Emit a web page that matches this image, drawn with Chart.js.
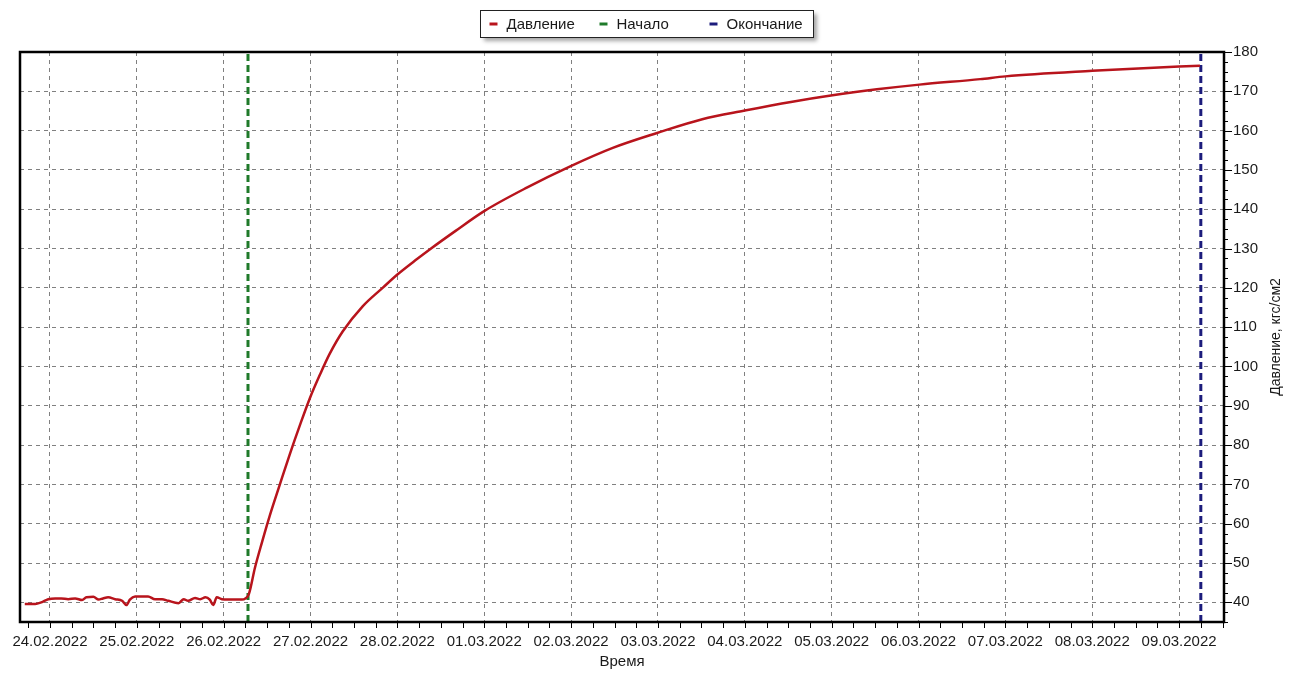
<!DOCTYPE html>
<html lang="ru">
<head>
<meta charset="UTF-8">
<title>Давление</title>
<script src="https://cdn.jsdelivr.net/npm/chart.js"></script>
<style>
  html, body { margin: 0; padding: 0; background: #fff; }
  #wrap { width: 1299px; height: 673px; }
</style>
</head>
<body>
<div id="wrap"><canvas id="pressureChart"></canvas></div>
<script>
  // x values are days counted from 24.02.2022 00:00
  const dateLabels = ["24.02.2022", "25.02.2022", "26.02.2022", "27.02.2022", "28.02.2022",
    "01.03.2022", "02.03.2022", "03.03.2022", "04.03.2022", "05.03.2022",
    "06.03.2022", "07.03.2022", "08.03.2022", "09.03.2022"];
  const dateTicks = [0, 1, 2, 3, 4, 5, 6, 7, 8, 9, 10, 11, 12, 13];
  const pressureTicks = [40, 50, 60, 70, 80, 90, 100, 110, 120, 130, 140, 150, 160, 170, 180];

  const pressureDays = [-0.29, -0.17, -0.10, -0.02, 0.06, 0.13, 0.21, 0.29, 0.37, 0.42,
    0.50, 0.56, 0.61, 0.67, 0.75, 0.83, 0.88, 0.92, 0.98, 1.06,
    1.13, 1.21, 1.29, 1.36, 1.48, 1.54, 1.59, 1.67, 1.73, 1.79,
    1.84, 1.88, 1.92, 1.98, 2.05, 2.13, 2.21, 2.25, 2.29,
    2.36, 2.44, 2.53, 2.65, 2.76, 2.88, 2.99, 3.11, 3.22, 3.37,
    3.60, 3.83, 4.00, 4.23, 4.38, 4.67, 4.99, 5.49, 5.99, 6.48,
    6.99, 7.51, 8.00, 8.53, 9.01, 9.52, 10.01, 10.71, 11.00, 12.00,
    13.00, 13.24];
  const pressureValues = [39.6, 39.6, 40.0, 40.8, 41.0, 41.0, 40.8, 41.0, 40.6, 41.3,
    41.4, 40.7, 41.0, 41.3, 40.8, 40.4, 39.3, 40.7, 41.5, 41.5,
    41.5, 40.8, 40.8, 40.4, 39.8, 40.8, 40.4, 41.1, 40.8, 41.3,
    40.7, 39.3, 41.3, 40.8, 40.7, 40.7, 40.7, 41.0, 42.1,
    48.8, 55.2, 62.0, 70.2, 77.6, 85.2, 91.8, 98.0, 103.2, 108.9,
    115.3, 120.0, 123.4, 127.4, 129.9, 134.5, 139.4, 145.5, 150.9, 155.6,
    159.4, 162.9, 165.1, 167.3, 169.0, 170.5, 171.7, 173.1, 173.8, 175.2,
    176.3, 176.5];

  const startDay = 2.28;
  const endDay = 13.25;
  const dayMin = -0.345, dayMax = 13.517;
  const pressureMin = 35, pressureMax = 180;
  const yTitle = "Давление, кгс/см2";

  const fontFamily = "'Liberation Sans', Arial, sans-serif";
  const textColor = "#1a1a1a";
  const gridColor = "#808080";

  const framePlugin = {
    id: "frame",
    afterDraw(chart) {
      const { ctx, chartArea: a } = chart;
      const x = chart.scales.x, y = chart.scales.y;
      ctx.save();

      // small tick marks, every 6 hours and every 2.5 units
      ctx.strokeStyle = "#000";
      ctx.lineWidth = 1;
      ctx.beginPath();
      for (let d = Math.ceil(dayMin * 4) / 4; d <= dayMax; d += 0.25) {
        const px = Math.round(x.getPixelForValue(d)) + 0.5;
        ctx.moveTo(px, a.bottom);
        ctx.lineTo(px, a.bottom + 6);
      }
      for (let v = pressureMin; v <= pressureMax; v += 2.5) {
        const py = Math.round(y.getPixelForValue(v)) + 0.5;
        ctx.moveTo(a.right, py);
        ctx.lineTo(a.right + (v % 10 === 0 ? 8 : 4), py);
      }
      ctx.stroke();

      // black frame round the plot
      ctx.lineWidth = 2.5;
      ctx.strokeRect(a.left, a.top, a.right - a.left, a.bottom - a.top);

      // axis title on the right, reading upward
      ctx.save();
      ctx.translate(a.right + 52, (a.top + a.bottom) / 2);
      ctx.rotate(-Math.PI / 2);
      ctx.font = "14px " + fontFamily;
      ctx.fillStyle = textColor;
      ctx.textAlign = "center";
      ctx.textBaseline = "middle";
      ctx.fillText(yTitle, 0, 0);
      ctx.restore();

      // boxed legend with fixed columns
      const col = 110, boxW = 333, boxH = 27;
      const bx = Math.round(chart.width / 2 - boxW / 2 - 3) + 0.5, by = 10.5;
      ctx.save();
      ctx.shadowColor = "rgba(0,0,0,0.35)";
      ctx.shadowBlur = 4;
      ctx.shadowOffsetX = 3;
      ctx.shadowOffsetY = 3;
      ctx.fillStyle = "#fff";
      ctx.fillRect(bx, by, boxW, boxH);
      ctx.restore();
      ctx.lineWidth = 1;
      ctx.strokeStyle = "#222";
      ctx.strokeRect(bx, by, boxW, boxH);
      ctx.font = "15px " + fontFamily;
      ctx.textBaseline = "middle";
      ctx.textAlign = "left";
      chart.data.datasets.forEach((ds, i) => {
        const mx = bx + 9 + i * col;
        const my = by + boxH / 2;
        ctx.strokeStyle = ds.borderColor;
        ctx.lineWidth = 3;
        ctx.beginPath();
        ctx.moveTo(mx, my);
        ctx.lineTo(mx + 8, my);
        ctx.stroke();
        ctx.fillStyle = textColor;
        ctx.fillText(ds.label, mx + 17, my + 1);
      });

      ctx.restore();
    }
  };

  new Chart(document.getElementById("pressureChart"), {
    type: "line",
    data: {
      datasets: [{
        label: "Давление",
        data: pressureDays.map((d, i) => ({ x: d, y: pressureValues[i] })),
        borderColor: "#b8141c",
        borderWidth: 2.5,
        pointRadius: 0,
        cubicInterpolationMode: "monotone",
        fill: false
      }, {
        label: "Начало",
        data: [{ x: startDay, y: pressureMin }, { x: startDay, y: pressureMax }],
        borderColor: "#1f7a2a",
        borderWidth: 3,
        borderDash: [7, 4],
        pointRadius: 0
      }, {
        label: "Окончание",
        data: [{ x: endDay, y: pressureMin }, { x: endDay, y: pressureMax }],
        borderColor: "#1c1c7c",
        borderWidth: 3,
        borderDash: [7, 4],
        pointRadius: 0
      }]
    },
    options: {
      responsive: true,
      maintainAspectRatio: false,
      animation: false,
      layout: { padding: { top: 52, left: 20, right: 0, bottom: 0 } },
      plugins: {
        legend: { display: false },
        tooltip: { enabled: false }
      },
      scales: {
        x: {
          type: "linear",
          min: dayMin,
          max: dayMax,
          afterBuildTicks: s => { s.ticks = dateTicks.map(v => ({ value: v })); },
          afterFit: s => { s.height = 51; },
          grid: { color: gridColor, lineWidth: 1, drawTicks: false },
          border: { display: false, dash: [4, 4] },
          ticks: {
            autoSkip: false,
            maxRotation: 0,
            padding: 11,
            color: textColor,
            font: { family: fontFamily, size: 15 },
            callback: (v, i) => dateLabels[i]
          },
          title: {
            display: true,
            text: "Время",
            color: textColor,
            font: { family: fontFamily, size: 15 },
            padding: { top: 0, bottom: 2 }
          }
        },
        y: {
          position: "right",
          min: pressureMin,
          max: pressureMax,
          afterBuildTicks: s => { s.ticks = pressureTicks.map(v => ({ value: v })); },
          afterFit: s => { s.width = 75; },
          grid: { color: gridColor, lineWidth: 1, drawTicks: false },
          border: { display: false, dash: [4, 4] },
          ticks: {
            padding: 9,
            color: textColor,
            font: { family: fontFamily, size: 15 }
          }
        }
      }
    },
    plugins: [framePlugin]
  });
</script>
</body>
</html>
